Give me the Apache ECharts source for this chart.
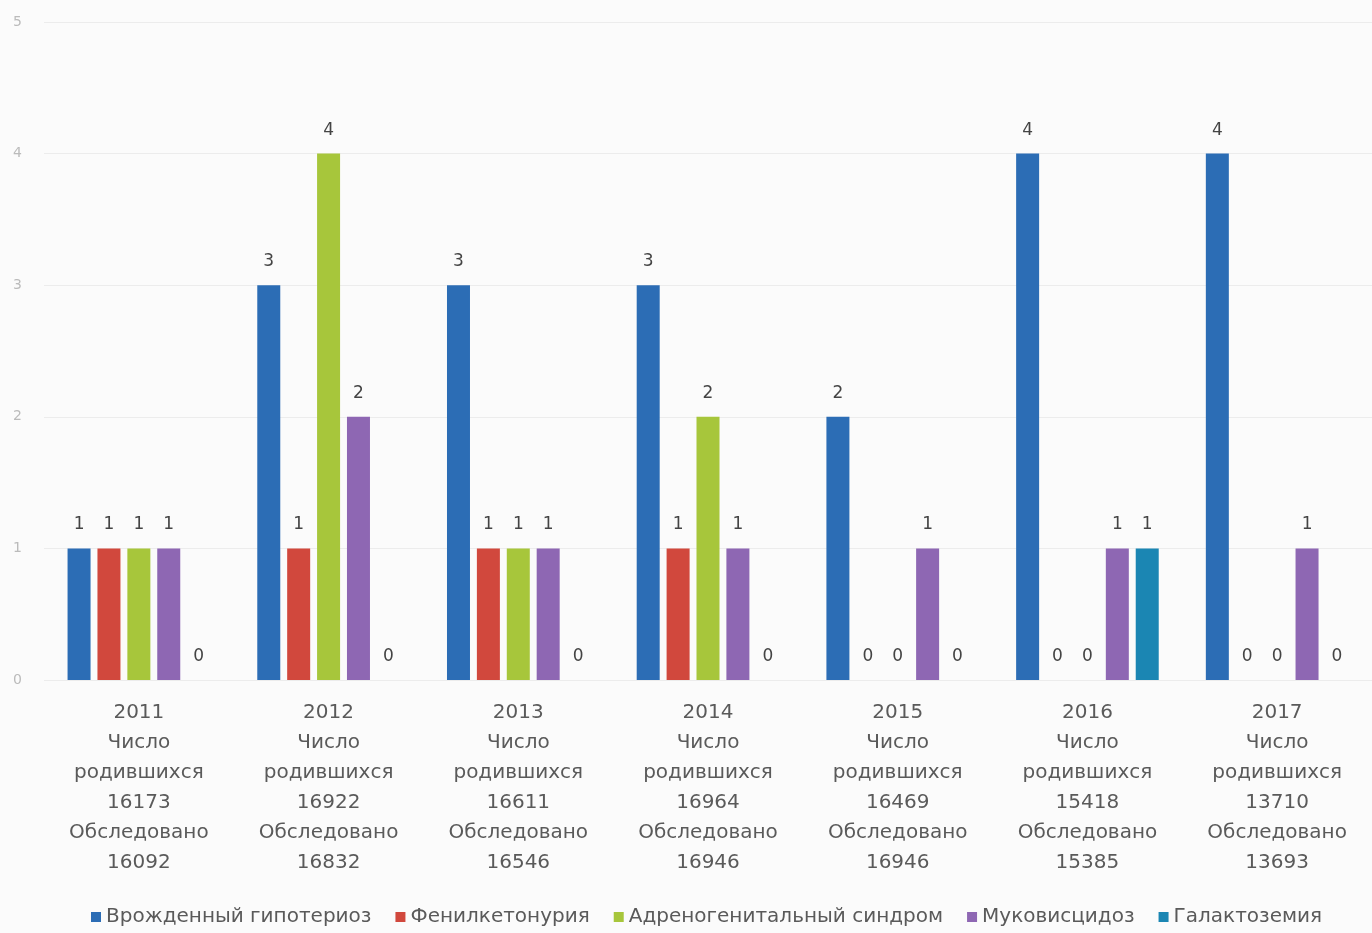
<!DOCTYPE html>
<html>
<head>
<meta charset="utf-8">
<script src="https://cdn.jsdelivr.net/npm/echarts@6/dist/echarts.min.js"></script>
<style>
html,body{margin:0;padding:0;background:#fbfbfb;}
#chart{width:1372px;height:933px;}
</style>
</head>
<body>
<div id="chart"></div>
<script>
const years = ['2011','2012','2013','2014','2015','2016','2017'];
const born = ['16173','16922','16611','16964','16469','15418','13710'];
const examined = ['16092','16832','16546','16946','16946','15385','13693'];
const seriesNames = ['Врожденный гипотериоз','Фенилкетонурия','Адреногенитальный синдром','Муковисцидоз','Галактоземия'];
const hypothyroidism = [1,3,3,3,2,4,4];
const phenylketonuria = [1,1,1,1,0,0,0];
const adrenogenital = [1,4,1,2,0,0,0];
const cysticFibrosis = [1,2,1,1,1,1,1];
const galactosemia = [0,0,0,0,0,1,0];
const yTicks = [0,1,2,3,4,5];

const colors = ['#2c6db5','#d1483d','#a7c63b','#8e67b3','#1b86b3'];
const values = [hypothyroidism, phenylketonuria, adrenogenital, cysticFibrosis, galactosemia];
const categories = years.map((y,i)=> y + '\nЧисло\nродившихся\n' + born[i] + '\nОбследовано\n' + examined[i]);
const FONT = 'DejaVu Sans';

const chart = echarts.init(document.getElementById('chart'));
chart.setOption({
  backgroundColor: '#fbfbfb',
  animation: false,
  color: colors,
  textStyle: {fontFamily: FONT},
  grid: {left: 44, top: 22, width: 1332, bottom: 253, containLabel: false},
  legend: {
    bottom: 1,
    left: 86,
    itemWidth: 10, itemHeight: 10, itemGap: 24,
    icon: 'rect',
    textStyle: {fontSize: 20, color: '#5a5a5a', fontFamily: FONT},
    data: seriesNames
  },
  xAxis: {
    type: 'category',
    data: categories,
    axisLine: {show: false},
    axisTick: {show: false},
    axisLabel: {interval: 0, margin: 18, fontSize: 20, lineHeight: 30, color: '#5a5a5a', fontFamily: FONT}
  },
  yAxis: {
    type: 'value',
    min: yTicks[0], max: yTicks[yTicks.length-1], interval: 1,
    axisLine: {show: false},
    axisTick: {show: false},
    axisLabel: {color: '#bbb', fontSize: 14, margin: 22},
    splitLine: {lineStyle: {color: '#ececec'}}
  },
  series: values.map((v,i)=>({
    name: seriesNames[i],
    type: 'bar',
    data: v,
    barWidth: 23,
    barGap: '30%',
    itemStyle: {color: colors[i]},
    label: {show: true, position: 'top', distance: 15, fontSize: 17, color: '#444', fontFamily: FONT}
  }))
});
</script>
</body>
</html>
